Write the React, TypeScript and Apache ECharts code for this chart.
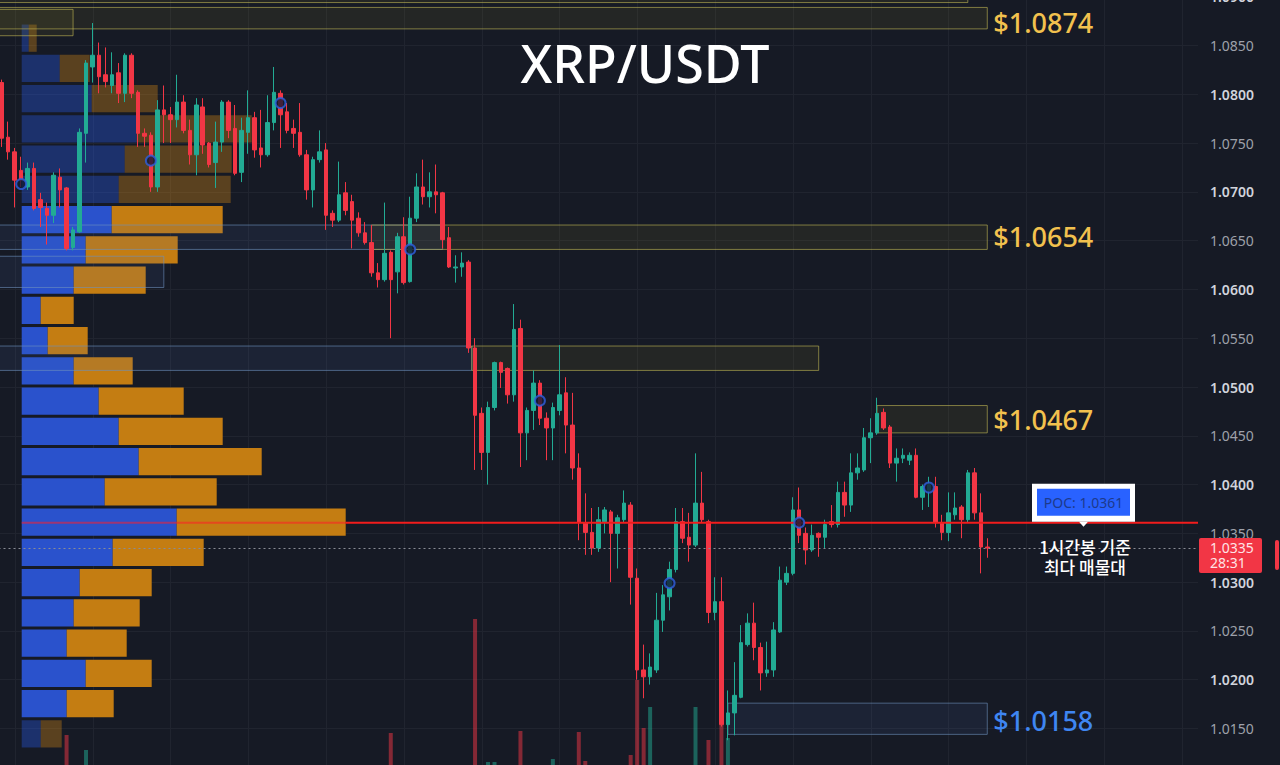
import React, { useEffect, useRef } from "react";
import * as echarts from "echarts";

// [open, close, low, high] for each 1h candle
const candles: number[][] = [
  [1.0812, 1.0755, 1.0746, 1.0815], [1.0756, 1.0741, 1.0733, 1.0772], [1.0741, 1.0712, 1.0684, 1.0745],
  [1.0722, 1.0712, 1.0705, 1.0736], [1.0705, 1.0724, 1.0702, 1.0730], [1.0724, 1.0683, 1.0681, 1.0730],
  [1.0692, 1.0684, 1.0664, 1.0699], [1.0683, 1.0676, 1.0646, 1.0689], [1.0676, 1.0717, 1.0668, 1.0720],
  [1.0715, 1.0702, 1.0684, 1.0724], [1.0704, 1.0642, 1.0640, 1.0705], [1.0643, 1.0661, 1.0640, 1.0664],
  [1.0659, 1.0761, 1.0658, 1.0765], [1.0760, 1.0832, 1.0730, 1.0835], [1.0828, 1.0840, 1.0812, 1.0873],
  [1.0840, 1.0818, 1.0801, 1.0853], [1.0820, 1.0813, 1.0807, 1.0848], [1.0809, 1.0820, 1.0801, 1.0843],
  [1.0822, 1.0801, 1.0791, 1.0832], [1.0801, 1.0840, 1.0792, 1.0842], [1.0840, 1.0801, 1.0796, 1.0842],
  [1.0802, 1.0760, 1.0746, 1.0804], [1.0760, 1.0757, 1.0746, 1.0765], [1.0758, 1.0705, 1.0700, 1.0761],
  [1.0705, 1.0784, 1.0700, 1.0794], [1.0784, 1.0779, 1.0750, 1.0809], [1.0779, 1.0774, 1.0750, 1.0787],
  [1.0774, 1.0792, 1.0766, 1.0820], [1.0792, 1.0763, 1.0760, 1.0799], [1.0763, 1.0738, 1.0728, 1.0774],
  [1.0738, 1.0789, 1.0717, 1.0796], [1.0787, 1.0748, 1.0739, 1.0796], [1.0750, 1.0728, 1.0725, 1.0751],
  [1.0730, 1.0751, 1.0704, 1.0772], [1.0751, 1.0792, 1.0741, 1.0794], [1.0792, 1.0763, 1.0755, 1.0794],
  [1.0765, 1.0719, 1.0717, 1.0789], [1.0720, 1.0763, 1.0710, 1.0776], [1.0761, 1.0776, 1.0739, 1.0804],
  [1.0776, 1.0743, 1.0735, 1.0782], [1.0745, 1.0738, 1.0725, 1.0784], [1.0738, 1.0771, 1.0736, 1.0799],
  [1.0771, 1.0802, 1.0763, 1.0828], [1.0801, 1.0779, 1.0745, 1.0804], [1.0782, 1.0763, 1.0760, 1.0791],
  [1.0765, 1.0760, 1.0745, 1.0774], [1.0761, 1.0738, 1.0736, 1.0791], [1.0738, 1.0702, 1.0692, 1.0743],
  [1.0702, 1.0733, 1.0684, 1.0736], [1.0733, 1.0741, 1.0730, 1.0763], [1.0743, 1.0676, 1.0661, 1.0750],
  [1.0678, 1.0671, 1.0664, 1.0681], [1.0671, 1.0697, 1.0669, 1.0731], [1.0699, 1.0681, 1.0676, 1.0710],
  [1.0690, 1.0671, 1.0642, 1.0697], [1.0673, 1.0658, 1.0654, 1.0679], [1.0658, 1.0648, 1.0646, 1.0669],
  [1.0648, 1.0617, 1.0613, 1.0666], [1.0617, 1.0610, 1.0602, 1.0627], [1.0610, 1.0637, 1.0608, 1.0689],
  [1.0638, 1.0610, 1.0550, 1.0640], [1.0618, 1.0654, 1.0596, 1.0658], [1.0654, 1.0607, 1.0605, 1.0674],
  [1.0608, 1.0673, 1.0607, 1.0695], [1.0673, 1.0705, 1.0669, 1.0719], [1.0705, 1.0695, 1.0687, 1.0733],
  [1.0695, 1.0700, 1.0684, 1.0720], [1.0700, 1.0697, 1.0678, 1.0728], [1.0699, 1.0651, 1.0642, 1.0700],
  [1.0653, 1.0623, 1.0622, 1.0664], [1.0622, 1.0623, 1.0607, 1.0635], [1.0623, 1.0627, 1.0613, 1.0638],
  [1.0628, 1.0540, 1.0535, 1.0630], [1.0540, 1.0471, 1.0415, 1.0550], [1.0473, 1.0433, 1.0415, 1.0479],
  [1.0433, 1.0479, 1.0400, 1.0485], [1.0479, 1.0525, 1.0476, 1.0526], [1.0525, 1.0515, 1.0499, 1.0526],
  [1.0519, 1.0492, 1.0483, 1.0520], [1.0492, 1.0559, 1.0485, 1.0585], [1.0560, 1.0453, 1.0418, 1.0569],
  [1.0453, 1.0476, 1.0425, 1.0479], [1.0476, 1.0504, 1.0456, 1.0517], [1.0504, 1.0468, 1.0461, 1.0507],
  [1.0468, 1.0458, 1.0425, 1.0474], [1.0458, 1.0479, 1.0425, 1.0484], [1.0476, 1.0492, 1.0471, 1.0543],
  [1.0494, 1.0461, 1.0432, 1.0510], [1.0461, 1.0417, 1.0405, 1.0494], [1.0417, 1.0361, 1.0343, 1.0432],
  [1.0361, 1.0351, 1.0328, 1.0391], [1.0351, 1.0335, 1.0328, 1.0376], [1.0335, 1.0364, 1.0331, 1.0377],
  [1.0362, 1.0374, 1.0350, 1.0377], [1.0372, 1.0350, 1.0300, 1.0374], [1.0350, 1.0366, 1.0314, 1.0369],
  [1.0364, 1.0381, 1.0361, 1.0394], [1.0379, 1.0305, 1.0277, 1.0382], [1.0304, 1.0210, 1.0200, 1.0314],
  [1.0210, 1.0203, 1.0181, 1.0236], [1.0203, 1.0213, 1.0195, 1.0227], [1.0210, 1.0261, 1.0207, 1.0289],
  [1.0261, 1.0287, 1.0249, 1.0297], [1.0285, 1.0313, 1.0271, 1.0321], [1.0313, 1.0362, 1.0310, 1.0376],
  [1.0362, 1.0345, 1.0340, 1.0376], [1.0346, 1.0338, 1.0321, 1.0371], [1.0338, 1.0381, 1.0336, 1.0432],
  [1.0381, 1.0364, 1.0361, 1.0413], [1.0362, 1.0269, 1.0258, 1.0364], [1.0269, 1.0280, 1.0261, 1.0305],
  [1.0280, 1.0154, 1.0152, 1.0305], [1.0154, 1.0166, 1.0138, 1.0189], [1.0166, 1.0184, 1.0143, 1.0218],
  [1.0182, 1.0238, 1.0181, 1.0256], [1.0236, 1.0258, 1.0234, 1.0268], [1.0258, 1.0233, 1.0220, 1.0279],
  [1.0233, 1.0207, 1.0189, 1.0238], [1.0207, 1.0210, 1.0203, 1.0239], [1.0210, 1.0251, 1.0203, 1.0259],
  [1.0249, 1.0302, 1.0248, 1.0316], [1.0300, 1.0309, 1.0297, 1.0316], [1.0309, 1.0374, 1.0307, 1.0387],
  [1.0374, 1.0348, 1.0340, 1.0397], [1.0350, 1.0333, 1.0318, 1.0356], [1.0333, 1.0348, 1.0331, 1.0359],
  [1.0350, 1.0346, 1.0326, 1.0351], [1.0346, 1.0359, 1.0335, 1.0364], [1.0362, 1.0359, 1.0356, 1.0379],
  [1.0359, 1.0392, 1.0356, 1.0403], [1.0392, 1.0379, 1.0367, 1.0403], [1.0379, 1.0412, 1.0372, 1.0432],
  [1.0412, 1.0417, 1.0405, 1.0432], [1.0415, 1.0448, 1.0413, 1.0458], [1.0448, 1.0453, 1.0422, 1.0468],
  [1.0453, 1.0473, 1.0451, 1.0489], [1.0474, 1.0458, 1.0456, 1.0478], [1.0459, 1.0422, 1.0417, 1.0461],
  [1.0422, 1.0427, 1.0403, 1.0437], [1.0427, 1.0430, 1.0422, 1.0437], [1.0425, 1.0430, 1.0420, 1.0433],
  [1.0430, 1.0387, 1.0386, 1.0437], [1.0387, 1.0398, 1.0374, 1.0400], [1.0394, 1.0400, 1.0377, 1.0408],
  [1.0398, 1.0361, 1.0356, 1.0408], [1.0361, 1.0351, 1.0343, 1.0369], [1.0351, 1.0371, 1.0342, 1.0392],
  [1.0369, 1.0376, 1.0364, 1.0392], [1.0377, 1.0364, 1.0345, 1.0379], [1.0364, 1.0412, 1.0361, 1.0415],
  [1.0412, 1.0371, 1.0364, 1.0417], [1.0371, 1.0336, 1.0309, 1.0391], [1.0336, 1.0335, 1.0325, 1.0345],
];

const totalSlots = 185;

// anchored markers (every 20 candles)
const markerIdx = [3, 23, 43, 63, 83, 103, 123, 143];
const markerPrice = [1.0708, 1.0732, 1.0791, 1.0641, 1.0486, 1.0299, 1.0361, 1.0397];

// visible volume bars (the rest fall below the bottom of the frame)
const volumeIdx = [10, 13, 60, 73, 75, 76, 80, 85, 89, 90, 97, 98, 99, 100, 107, 109, 111, 112];
const volumeVal = [30, 15, 32, 146, 3, 3, 34, 6, 33, 4, 10, 85, 37, 58, 58, 25, 40, 27];

// volume profile: 24 price rows from the top, buy / sell volume
const profileTopPrice = 1.0873;
const profileStep = 0.0031;
const profileBuy = [7, 38, 70, 115, 103, 97, 90, 64, 52, 19, 26, 52, 77, 97, 117, 83, 155, 91, 58, 52, 45, 64, 45, 19];
const profileSell = [8, 30, 66, 115, 107, 112, 111, 92, 72, 33, 40, 59, 85, 104, 123, 112, 169, 91, 72, 66, 60, 66, 47, 21];
const valueAreaFirst = 6;
const valueAreaLast = 22;
const pocRow = 16;

const pocPrice = 1.0361;
const lastPrice = 1.0335;
const countdown = "28:31";

const yMin = 1.01;
const yMax = 1.09;
const yStep = 0.005;

// zones: candle index range, price range
const zoneKind = ["s", "s", "s", "d", "s", "d", "d", "s", "s", "d"];
const zoneFrom = [-0.5, -0.5, -0.5, -0.5, 57, -0.5, -0.5, 72.5, 135, 112];
const zoneTo = [149, 152, 11, 68, 152, 25, 72.5, 126, 152, 152];
const zoneTop = [1.0917, 1.0889, 1.0887, 1.0666, 1.0666, 1.0634, 1.0542, 1.0542, 1.0481, 1.0176];
const zoneBottom = [1.0894, 1.0867, 1.0860, 1.0641, 1.0641, 1.0602, 1.0517, 1.0517, 1.0453, 1.0144];

const levelText = ["$1.0874", "$1.0654", "$1.0467", "$1.0158"];
const levelPrice = [1.0874, 1.0654, 1.0467, 1.0158];
const levelKind = ["s", "s", "s", "d"];

const UP = "#22ab94";
const DOWN = "#f23645";

export default function App() {
  const ref = useRef<HTMLDivElement>(null);

  useEffect(() => {
    const chart = echarts.init(ref.current!, null, { renderer: "svg" });
    const cats = Array.from({ length: totalSlots }, (_, i) => "H" + i);
    const gridTop = -3.3;
    const gridBottom = -12.3;
    const gridLeft = -1.5;
    const gridRight = 82;

    const volData: any[] = candles.map(() => null);
    volumeIdx.forEach((idx, j) => {
      const c = candles[idx];
      volData[idx] = {
        value: volumeVal[j],
        itemStyle: { color: c[1] >= c[0] ? "rgba(34,171,148,0.5)" : "rgba(242,54,69,0.5)" },
      };
    });

    const profileData = profileBuy.map((b, k) => [k, b, profileSell[k]]);

    const option: any = {
      animation: false,
      backgroundColor: "#161a25",
      textStyle: { fontFamily: "Noto Sans" },
      grid: [
        { left: gridLeft, right: gridRight, top: gridTop, bottom: gridBottom, containLabel: false, outerBoundsMode: "none" },
        { left: gridLeft, right: gridRight, top: 615, bottom: 0, containLabel: false, outerBoundsMode: "none" },
        { left: 21.7, width: 1000, top: gridTop, bottom: gridBottom, containLabel: false, outerBoundsMode: "none" },
      ],
      xAxis: [
        { type: "category", gridIndex: 0, data: cats, show: false, boundaryGap: true },
        { type: "category", gridIndex: 1, data: cats, show: false, boundaryGap: true },
        { type: "value", gridIndex: 2, min: 0, max: 1000, show: false },
      ],
      yAxis: [
        {
          type: "value",
          gridIndex: 0,
          position: "right",
          min: yMin,
          max: yMax,
          interval: yStep,
          axisLine: { show: false },
          axisTick: { show: false },
          axisLabel: {
            margin: 12,
            showMinLabel: false,
            formatter: (v: number) => {
              const s = v.toFixed(4);
              return Math.round(v * 200) % 2 === 0 ? "{b|" + s + "}" : "{n|" + s + "}";
            },
            rich: {
              b: { color: "#d1d4dc", fontSize: 14, fontWeight: 600, fontFamily: "Noto Sans" },
              n: { color: "#9ea1aa", fontSize: 14, fontWeight: 400, fontFamily: "Noto Sans" },
            },
          },
          splitLine: { lineStyle: { color: "#20242f", width: 1 } },
        },
        { type: "value", gridIndex: 1, min: 0, max: 150, show: false },
        { type: "value", gridIndex: 2, min: yMin, max: yMax, show: false },
      ],
      series: [
        {
          type: "bar",
          xAxisIndex: 1,
          yAxisIndex: 1,
          data: volData,
          barWidth: 4,
          z: 1,
        },
        {
          type: "custom",
          xAxisIndex: 2,
          yAxisIndex: 2,
          data: profileData,
          z: 2,
          renderItem: (_params: any, api: any) => {
            const k = api.value(0);
            const buy = api.value(1);
            const sell = api.value(2);
            const top = profileTopPrice - k * profileStep;
            const bot = top - profileStep;
            const pad = profileStep * 0.05;
            const a = api.coord([0, top - pad]);
            const b = api.coord([buy, bot + pad]);
            const c = api.coord([buy + sell, bot + pad]);
            const inVA = k >= valueAreaFirst && k <= valueAreaLast;
            return {
              type: "group",
              children: [
                {
                  type: "rect",
                  shape: { x: a[0], y: a[1], width: b[0] - a[0], height: b[1] - a[1] },
                  style: { fill: inVA ? "#2a52cc" : "rgba(41,98,255,0.33)" },
                },
                {
                  type: "rect",
                  shape: { x: b[0], y: a[1], width: c[0] - b[0], height: b[1] - a[1] },
                  style: { fill: inVA ? "#c47d12" : "rgba(230,145,20,0.33)" },
                },
              ],
            };
          },
        },
        {
          type: "candlestick",
          xAxisIndex: 0,
          yAxisIndex: 0,
          data: candles,
          barWidth: 4,
          z: 5,
          itemStyle: {
            color: UP,
            color0: DOWN,
            borderColor: UP,
            borderColor0: DOWN,
            borderWidth: 1,
          },
        },
        {
          type: "scatter",
          xAxisIndex: 0,
          yAxisIndex: 0,
          data: markerIdx.map((i, j) => [i, markerPrice[j]]),
          symbol: "circle",
          symbolSize: 10,
          z: 6,
          itemStyle: { color: "#141b34", borderColor: "#2f5fe0", borderWidth: 2 },
        },
      ],
    };
    chart.setOption(option);

    const xa = chart.convertToPixel({ xAxisIndex: 0 }, 0) as unknown as number;
    const xb = chart.convertToPixel({ xAxisIndex: 0 }, 1) as unknown as number;
    const xAt = (i: number) => xa + (xb - xa) * i;
    const yAt = (p: number) => chart.convertToPixel({ yAxisIndex: 0 }, p) as unknown as number;
    const xProf = (v: number) => chart.convertToPixel({ xAxisIndex: 2 }, v) as unknown as number;
    const plotLeft = xAt(-0.5);
    const plotRight = xAt(totalSlots - 0.5);

    const g: any[] = [];
    // vertical grid lines
    for (let i = 2; i < totalSlots; i += 12) {
      const x = Math.round(xAt(i)) + 0.5;
      g.push({ type: "line", z: 0, silent: true, shape: { x1: x, y1: 0, x2: x, y2: 765 }, style: { stroke: "#20242f", lineWidth: 1 } });
    }
    // zones
    zoneKind.forEach((k, j) => {
      const x1 = xAt(zoneFrom[j]);
      const x2 = xAt(zoneTo[j]);
      const y1 = yAt(zoneTop[j]);
      const y2 = yAt(zoneBottom[j]);
      g.push({
        type: "rect",
        z: 3,
        silent: true,
        shape: { x: x1, y: y1, width: x2 - x1, height: y2 - y1 },
        style:
          k === "s"
            ? { fill: "rgba(140,130,40,0.12)", stroke: "rgba(195,185,85,0.6)", lineWidth: 1 }
            : { fill: "rgba(70,110,170,0.12)", stroke: "rgba(110,145,190,0.6)", lineWidth: 1 },
      });
    });
    // level labels
    levelText.forEach((t, j) => {
      g.push({
        type: "text",
        z: 10,
        x: xAt(candles.length - 1) + 6,
        y: yAt(levelPrice[j]),
        style: {
          text: t,
          fill: levelKind[j] === "s" ? "#f2c14e" : "#3f86f2",
          font: "500 27px 'Noto Sans'",
          verticalAlign: "middle",
          align: "left",
        },
      });
    });
    // last price dotted line
    const yLast = Math.round(yAt(lastPrice)) + 0.5;
    g.push({
      type: "line",
      z: 6,
      silent: true,
      shape: { x1: plotLeft, y1: yLast, x2: plotRight, y2: yLast },
      style: { stroke: "#8a8d96", lineWidth: 1, lineDash: [2, 3] },
    });
    // POC line
    const yPoc = yAt(pocPrice);
    const pocEnd = xProf(profileBuy[pocRow] + profileSell[pocRow]);
    g.push({ type: "line", z: 4, silent: true, shape: { x1: xProf(0), y1: yPoc, x2: pocEnd, y2: yPoc }, style: { stroke: "rgba(255,30,40,0.55)", lineWidth: 2 } });
    g.push({ type: "line", z: 6, silent: true, shape: { x1: pocEnd, y1: yPoc, x2: plotRight, y2: yPoc }, style: { stroke: "#f21c1c", lineWidth: 2 } });
    // POC callout
    g.push({ type: "rect", z: 10, shape: { x: 1032, y: yPoc - 39, width: 103, height: 38 }, style: { fill: "#ffffff" } });
    g.push({ type: "rect", z: 11, shape: { x: 1037, y: yPoc - 34, width: 93, height: 27 }, style: { fill: "#2962ff" } });
    g.push({
      type: "text",
      z: 12,
      x: 1083.5,
      y: yPoc - 20.5,
      style: { text: "POC: " + pocPrice.toFixed(4), fill: "#1d3a8c", font: "14px 'Noto Sans'", align: "center", verticalAlign: "middle" },
    });
    g.push({ type: "polygon", z: 10, shape: { points: [[1079, yPoc - 1], [1088, yPoc - 1], [1083.5, yPoc + 4]] }, style: { fill: "#ffffff" } });
    g.push({
      type: "text",
      z: 10,
      x: 1085,
      y: yPoc + 24,
      style: { text: "1시간봉 기준", fill: "#ffffff", font: "500 17px 'Noto Sans CJK KR'", align: "center", verticalAlign: "middle" },
    });
    g.push({
      type: "text",
      z: 10,
      x: 1085,
      y: yPoc + 44,
      style: { text: "최다 매물대", fill: "#ffffff", font: "500 17px 'Noto Sans CJK KR'", align: "center", verticalAlign: "middle" },
    });
    // last price tag
    const yTag = yAt(lastPrice);
    g.push({ type: "rect", z: 10, shape: { x: plotRight + 1, y: yTag - 10, width: 63, height: 35, r: 2 }, style: { fill: DOWN } });
    g.push({ type: "text", z: 11, x: plotRight + 12, y: yTag, style: { text: lastPrice.toFixed(4), fill: "#ffe3e6", font: "14px 'Noto Sans'", verticalAlign: "middle" } });
    g.push({ type: "text", z: 11, x: plotRight + 12, y: yTag + 15, style: { text: countdown, fill: "#ffe3e6", font: "14px 'Noto Sans'", verticalAlign: "middle" } });
    g.push({ type: "rect", z: 10, shape: { x: 1275, y: yTag - 8, width: 4, height: 30, r: 2 }, style: { fill: DOWN } });
    // title
    g.push({
      type: "text",
      z: 10,
      x: 645,
      y: 62,
      style: { text: "XRP/USDT", fill: "#ffffff", font: "500 52px 'Noto Sans'", align: "center", verticalAlign: "middle" },
    });

    chart.setOption({ graphic: { elements: g } });

    return () => chart.dispose();
  }, []);

  return <div ref={ref} style={{ position: "fixed", left: 0, top: 0, width: 1280, height: 765 }} />;
}
